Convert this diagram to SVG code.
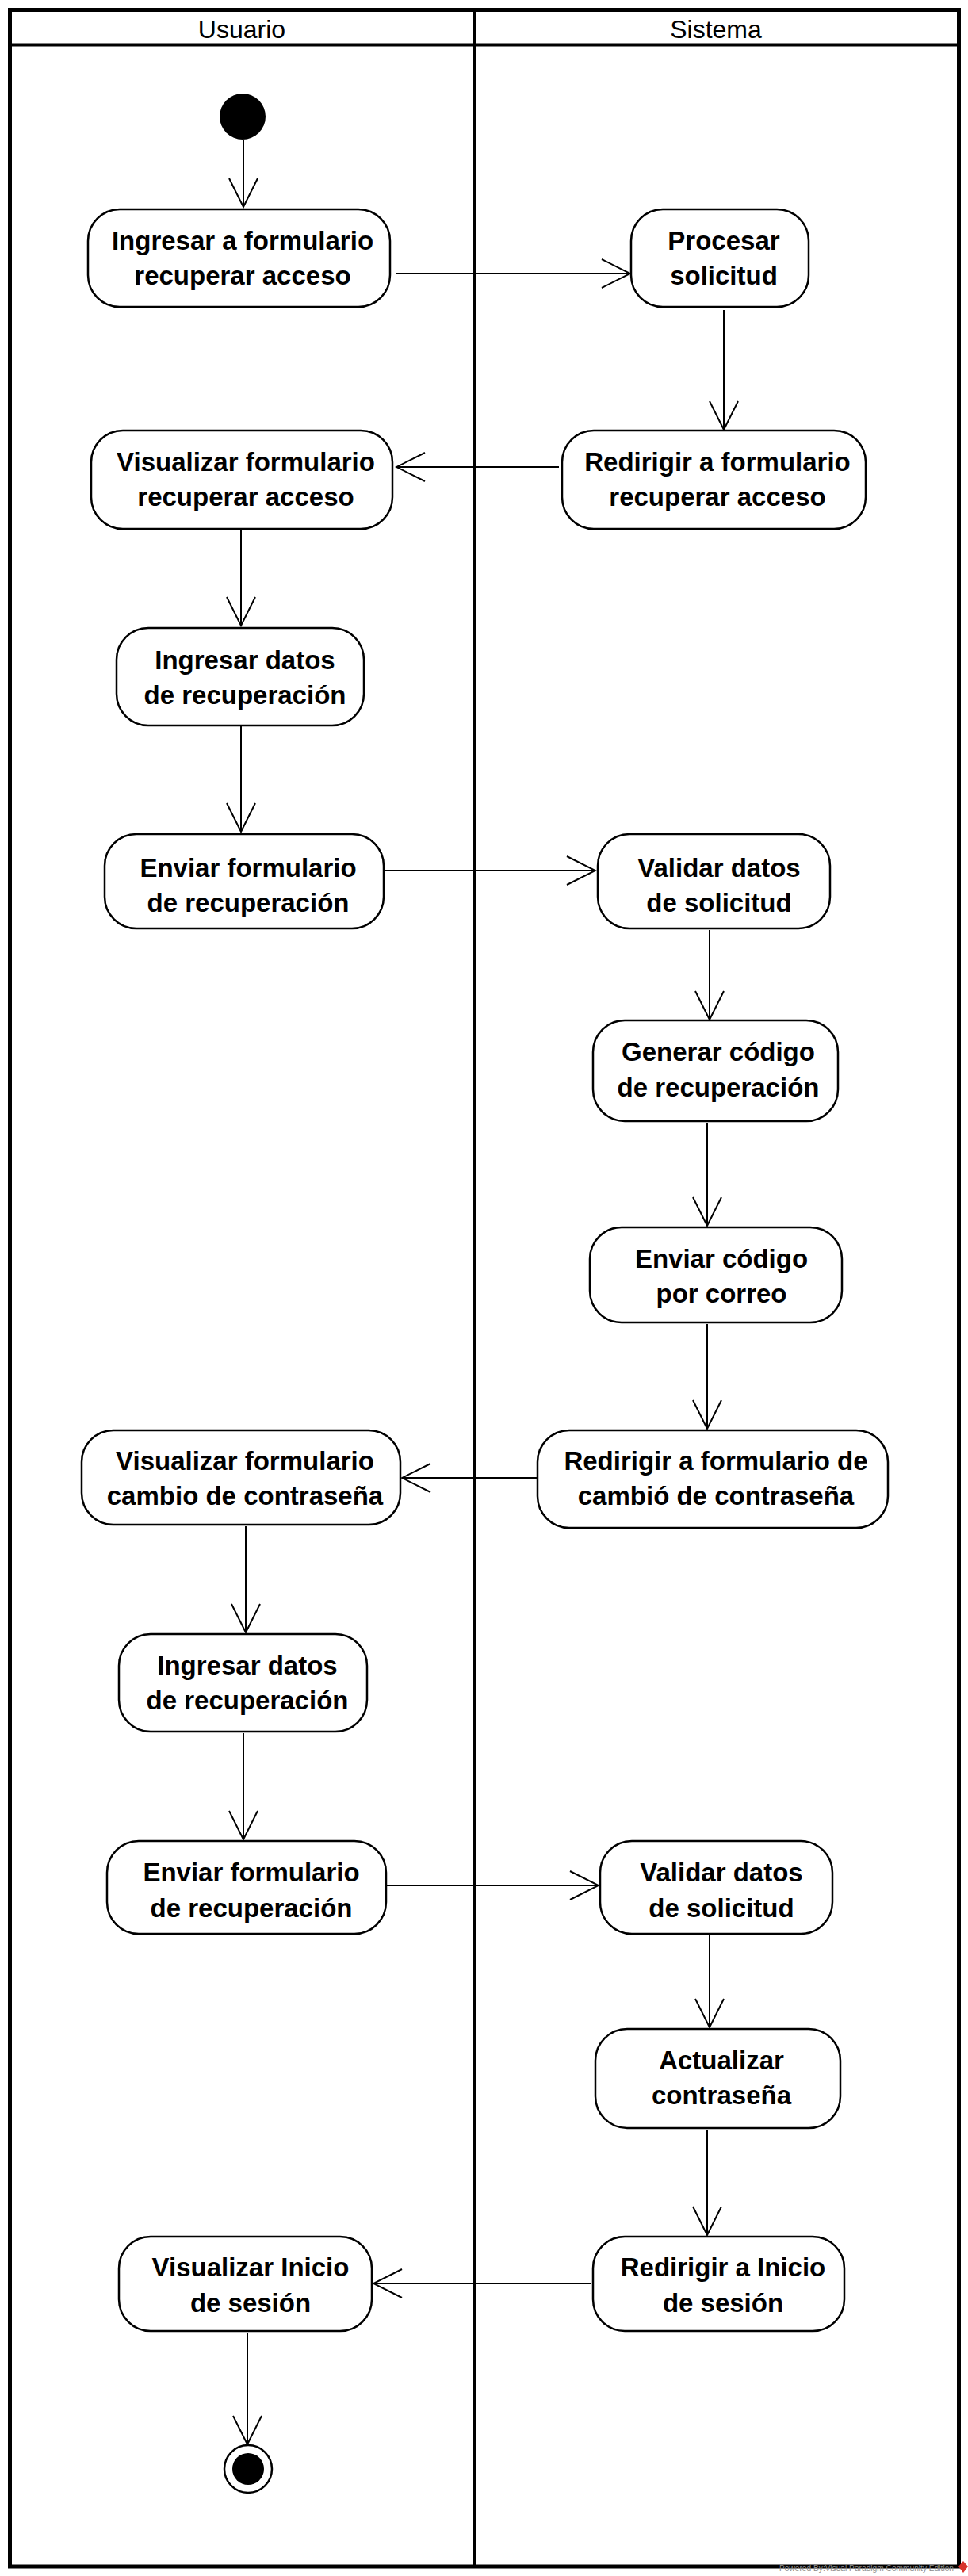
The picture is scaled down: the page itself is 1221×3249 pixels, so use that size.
<svg xmlns="http://www.w3.org/2000/svg" width="1221" height="3249" viewBox="0 0 1221 3249">
<style>
.lane{fill:none;stroke:#000;stroke-width:5}
.hdr{font-family:"Liberation Sans",Arial,sans-serif;font-size:32px;fill:#000;text-anchor:middle}
.act{fill:#fff;stroke:#000;stroke-width:2.5}
.lbl{font-family:"Liberation Sans",Arial,sans-serif;font-size:33px;font-weight:bold;fill:#000;text-anchor:middle}
.edge{fill:none;stroke:#000;stroke-width:2;marker-end:url(#open)}
.wm{font-family:"Liberation Sans",Arial,sans-serif;font-size:10px;fill:#8a8a8a}
</style>
<defs>
<marker id="open" markerUnits="userSpaceOnUse" markerWidth="40" markerHeight="40" viewBox="0 0 40 40" refX="38" refY="20" orient="auto">
<path d="M2,2 L38,20 L2,38" fill="none" stroke="#000" stroke-width="2"/>
</marker>
</defs>
<rect width="1221" height="3249" fill="#fff"/>
<g id="swimlanes">
<rect class="lane" x="12.5" y="12.5" width="1197" height="3224.5"/>
<line class="lane" x1="12.5" y1="56.5" x2="1209.5" y2="56.5" style="stroke-width:4"/>
<line class="lane" x1="598.5" y1="12.5" x2="598.5" y2="3237"/>
<text class="hdr" x="305" y="48">Usuario</text>
<text class="hdr" x="903" y="48">Sistema</text>
</g>
<g id="connectors">
<path class="edge" d="M307,176 V261"/>
<path class="edge" d="M499,345 H795"/>
<path class="edge" d="M913,391 V542"/>
<path class="edge" d="M705,589 H500"/>
<path class="edge" d="M304,667 V789"/>
<path class="edge" d="M304,916 V1049"/>
<path class="edge" d="M484,1098 H751"/>
<path class="edge" d="M895,1173 V1286"/>
<path class="edge" d="M892,1416 V1546"/>
<path class="edge" d="M892,1670 V1802"/>
<path class="edge" d="M677,1864 H507"/>
<path class="edge" d="M310,1925 V2059"/>
<path class="edge" d="M307,2186 V2320"/>
<path class="edge" d="M488,2378 H755"/>
<path class="edge" d="M895,2441 V2557"/>
<path class="edge" d="M892,2686 V2819"/>
<path class="edge" d="M746,2880 H471"/>
<path class="edge" d="M312,2942 V3083"/>
</g>
<g id="initial"><circle cx="306" cy="147" r="29" fill="#000"/></g>
<g id="n1"><rect class="act" x="111" y="264" width="381" height="123" rx="40"/><text class="lbl" x="306" y="315">Ingresar a formulario<tspan x="306" dy="44">recuperar acceso</tspan></text></g>
<g id="n2"><rect class="act" x="796" y="264" width="224" height="123" rx="40"/><text class="lbl" x="913" y="315">Procesar<tspan x="913" dy="44">solicitud</tspan></text></g>
<g id="n3"><rect class="act" x="709" y="543" width="383" height="124" rx="40"/><text class="lbl" x="905" y="594">Redirigir a formulario<tspan x="905" dy="44">recuperar acceso</tspan></text></g>
<g id="n4"><rect class="act" x="115" y="543" width="380" height="124" rx="40"/><text class="lbl" x="310" y="594">Visualizar formulario<tspan x="310" dy="44">recuperar acceso</tspan></text></g>
<g id="n5"><rect class="act" x="147" y="792" width="312" height="123" rx="40"/><text class="lbl" x="309" y="844">Ingresar datos<tspan x="309" dy="44">de recuperación</tspan></text></g>
<g id="n6"><rect class="act" x="132" y="1052" width="352" height="119" rx="40"/><text class="lbl" x="313" y="1106">Enviar formulario<tspan x="313" dy="44">de recuperación</tspan></text></g>
<g id="n7"><rect class="act" x="754" y="1052" width="293" height="119" rx="40"/><text class="lbl" x="907" y="1106">Validar datos<tspan x="907" dy="44">de solicitud</tspan></text></g>
<g id="n8"><rect class="act" x="748" y="1287" width="309" height="127" rx="40"/><text class="lbl" x="906" y="1338">Generar código<tspan x="906" dy="45">de recuperación</tspan></text></g>
<g id="n9"><rect class="act" x="744" y="1548" width="318" height="120" rx="40"/><text class="lbl" x="910" y="1599">Enviar código<tspan x="910" dy="44">por correo</tspan></text></g>
<g id="n10"><rect class="act" x="678" y="1804" width="442" height="123" rx="40"/><text class="lbl" x="903" y="1854">Redirigir a formulario de<tspan x="903" dy="44">cambió de contraseña</tspan></text></g>
<g id="n11"><rect class="act" x="103" y="1804" width="402" height="119" rx="40"/><text class="lbl" x="309" y="1854">Visualizar formulario<tspan x="309" dy="44">cambio de contraseña</tspan></text></g>
<g id="n12"><rect class="act" x="150" y="2061" width="313" height="123" rx="40"/><text class="lbl" x="312" y="2112">Ingresar datos<tspan x="312" dy="44">de recuperación</tspan></text></g>
<g id="n13"><rect class="act" x="135" y="2322" width="352" height="117" rx="40"/><text class="lbl" x="317" y="2373">Enviar formulario<tspan x="317" dy="45">de recuperación</tspan></text></g>
<g id="n14"><rect class="act" x="757" y="2322" width="293" height="117" rx="40"/><text class="lbl" x="910" y="2373">Validar datos<tspan x="910" dy="45">de solicitud</tspan></text></g>
<g id="n15"><rect class="act" x="751" y="2559" width="309" height="125" rx="40"/><text class="lbl" x="910" y="2610">Actualizar<tspan x="910" dy="44">contraseña</tspan></text></g>
<g id="n16"><rect class="act" x="748" y="2821" width="317" height="119" rx="40"/><text class="lbl" x="912" y="2871">Redirigir a Inicio<tspan x="912" dy="45">de sesión</tspan></text></g>
<g id="n17"><rect class="act" x="150" y="2821" width="319" height="119" rx="40"/><text class="lbl" x="316" y="2871">Visualizar Inicio<tspan x="316" dy="45">de sesión</tspan></text></g>
<g id="final"><circle cx="313" cy="3114" r="30" fill="#fff" stroke="#000" stroke-width="2.5"/><circle cx="313" cy="3114" r="20" fill="#000"/></g>
<g id="watermark">
<text class="wm" x="983" y="3243" textLength="220" lengthAdjust="spacingAndGlyphs">Powered By:Visual Paradigm Community Edition</text>
<polygon points="1209,3237 1215,3230 1221,3237 1215,3245" fill="#d8342c"/>
</g>
</svg>
